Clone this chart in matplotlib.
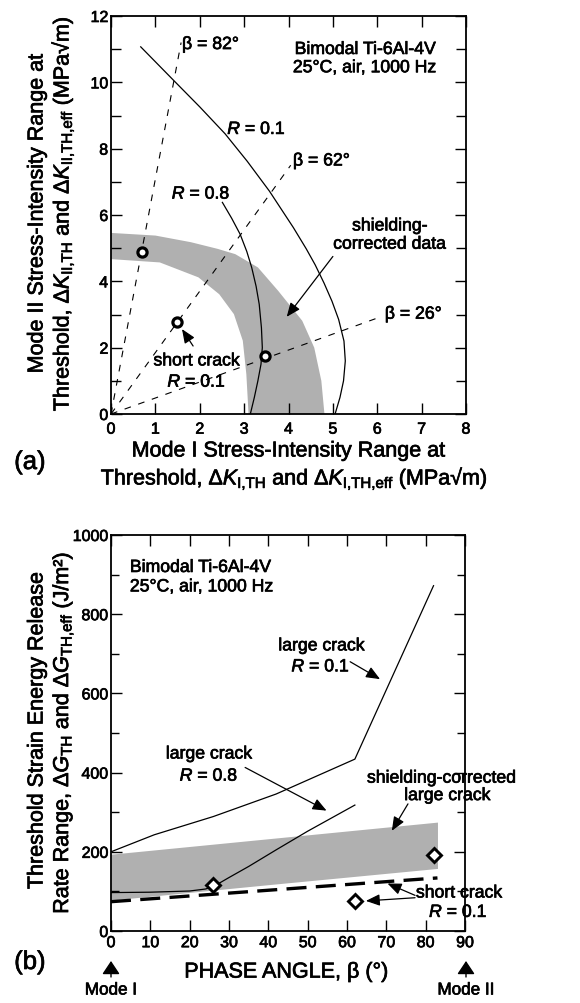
import matplotlib
matplotlib.use("Agg")
import matplotlib.pyplot as plt
import matplotlib.patheffects as pe
from matplotlib.patches import FancyArrowPatch

plt.rcParams['font.family'] = ['Liberation Sans', 'DejaVu Sans']
plt.rcParams['mathtext.fontset'] = 'custom'
plt.rcParams['mathtext.rm'] = 'Liberation Sans'
plt.rcParams['mathtext.it'] = 'Liberation Sans:italic'
plt.rcParams['mathtext.bf'] = 'Liberation Sans:bold'

# ---------------- data: panel (a) ----------------
band_outer_x = [0, 1.0, 1.8, 2.4, 2.8, 3.31, 3.77, 4.31, 4.58, 4.74, 4.81]
band_outer_y = [5.46, 5.38, 5.18, 4.98, 4.82, 4.42, 3.71, 2.81, 2.0, 1.0, 0]
band_inner_x = [0, 1.1, 1.97, 2.44, 2.77, 2.97, 3.05, 3.1]
band_inner_y = [4.67, 4.57, 4.12, 3.61, 3.01, 2.21, 1.2, 0]

r01_KI = [0.67, 1.44, 2.0, 2.57, 3.07, 3.57, 4.11, 4.4, 4.6, 4.8, 4.98, 5.13,
          5.25, 5.28, 5.24, 5.16, 5.05]
r01_KII = [11.07, 10.02, 9.26, 8.45, 7.62, 6.72, 5.62, 4.98, 4.5, 3.95, 3.4, 2.85,
           2.2, 1.6, 1.0, 0.5, 0]
r08_KI = [2.51, 2.72, 2.91, 3.06, 3.17, 3.27, 3.34, 3.39, 3.41, 3.38, 3.31, 3.23, 3.14]
r08_KII = [6.38, 5.9, 5.42, 4.9, 4.42, 3.85, 3.31, 2.6, 2.0, 1.5, 1.0, 0.5, 0]

beta_labels = ['β = 82°', 'β = 62°', 'β = 26°']
beta_end_KI = [1.58, 4.05, 6.12]
beta_end_KII = [11.2, 7.5, 2.95]

short_KI = [0.69, 1.49, 3.48]
short_KII = [4.87, 2.78, 1.74]

# ---------------- data: panel (b) ----------------
band_beta = [0, 40, 83]
band_lo = [78, 117, 158]
band_hi = [194, 233, 275]

lc01_beta = [0, 11, 26, 42, 62, 82]
lc01_G = [200, 243, 289, 346, 434, 872]
lc08_beta = [0, 10, 20, 24, 26, 30, 35, 42, 50, 62]
lc08_G = [97, 98, 101, 106, 112, 135, 163, 205, 252, 318]

sc_beta = [0, 83]
sc_G = [74, 134]

pts_beta = [26, 62, 82]
pts_G = [117, 76, 192]

W, H = 580, 1004
fig = plt.figure(figsize=(W / 100, H / 100), dpi=100)

def fx(px):
    return px / W

def fy(py):
    return 1 - py / H

ax1 = fig.add_axes([fx(111), fy(415), (466 - 111) / W, (415 - 17) / H])
ax2 = fig.add_axes([fx(111), fy(932), (465 - 111) / W, (932 - 536) / H])

FS_ANN = 12.7
FS_LAB = 15.5
FS_TICK = 11.5
heavy = [pe.withStroke(linewidth=0.5, foreground='k')]
arrow_kw = dict(arrowstyle='-|>,head_length=0.6,head_width=0.25', color='k',
                lw=0.9, mutation_scale=14, shrinkA=0, shrinkB=0)

def T(ax, x, y, s, **kw):
    kw.setdefault('fontsize', FS_ANN)
    kw.setdefault('ha', 'center')
    kw.setdefault('va', 'center')
    return ax.text(x, y, s, path_effects=heavy, **kw)

# ---------- panel (a) ----------
bx = band_outer_x + band_inner_x[::-1]
by = band_outer_y + band_inner_y[::-1]
ax1.fill(bx, by, color='#b0b0b0', lw=0, zorder=1)

for xe, ye in zip(beta_end_KI, beta_end_KII):
    ax1.plot([0, xe], [0, ye], color='k', lw=0.8, ls=(0, (6, 7)), zorder=2)

ax1.plot(r01_KI, r01_KII, color='k', lw=0.9, zorder=3, solid_joinstyle='round')
ax1.plot(r08_KI, r08_KII, color='k', lw=0.9, zorder=3, solid_joinstyle='round')
ax1.plot(short_KI, short_KII, ls='none', marker='o', ms=6.6, mew=2.3,
         mfc='white', mec='k', zorder=5)

T(ax1, 1.6, 11.14, beta_labels[0], ha='left')
T(ax1, 4.1, 7.63, beta_labels[1], ha='left')
T(ax1, 6.17, 3.01, beta_labels[2], ha='left')
T(ax1, 2.62, 8.58, r'$R$ = 0.1', ha='left')
T(ax1, 1.37, 6.63, r'$R$ = 0.8', ha='left')
T(ax1, 5.72, 10.99, 'Bimodal Ti-6Al-4V')
T(ax1, 5.72, 10.44, '25°C, air, 1000 Hz')
T(ax1, 6.28, 5.67, 'shielding-')
T(ax1, 6.28, 5.12, 'corrected data')
T(ax1, 1.93, 1.6, 'short crack')
T(ax1, 1.93, 0.96, r'$R$ = 0.1')

ax1.annotate('', xy=(3.96, 2.93), xytext=(5.0, 4.75), arrowprops=arrow_kw, zorder=6)
ax1.annotate('', xy=(1.6, 2.56), xytext=(1.85, 2.05), arrowprops=arrow_kw, zorder=6)

ax1.set_xlim(0, 8)
ax1.set_ylim(0, 12)
ax1.set_xticks(range(0, 9))
ax1.set_yticks(range(0, 13, 2))
ax1.set_yticks(range(1, 12, 2), minor=True)
ax1.tick_params(which='both', direction='in', top=True, right=True, width=1.0,
                labelsize=FS_TICK)
ax1.tick_params(which='major', length=8)
ax1.tick_params(which='minor', length=7)
ax1.tick_params(axis='x', pad=5.5)
ax1.tick_params(axis='y', pad=2)
for s in ax1.spines.values():
    s.set_linewidth(1.3)

def F(x, y, s, **kw):
    kw.setdefault('fontsize', FS_LAB)
    return fig.text(fx(x), fy(y), s, ha='center', va='center', path_effects=heavy, **kw)

F(288, 452, 'Mode I Stress-Intensity Range at')
F(294, 480, r'Threshold, Δ$K_{\mathrm{I{,}TH}}$ and Δ$K_{\mathrm{I{,}TH{,}eff}}$ (MPa√m)')
F(37, 215, 'Mode II Stress-Intensity Range at', rotation=90)
F(63, 215, r'Threshold, Δ$K_{\mathrm{II{,}TH}}$ and Δ$K_{\mathrm{II{,}TH{,}eff}}$ (MPa√m)',
  rotation=90)
F(30, 463, '(a)', fontsize=18.5)

# ---------- panel (b) ----------
ax2.fill_between(band_beta, band_lo, band_hi, color='#b0b0b0', lw=0, zorder=1)
ax2.plot(lc01_beta, lc01_G, color='k', lw=0.9, zorder=3)
ax2.plot(lc08_beta, lc08_G, color='k', lw=0.9, zorder=3, solid_joinstyle='round')
ax2.plot(sc_beta, sc_G, color='k', lw=2.4, ls=(0, (6, 2.8)), zorder=3)
ax2.plot(pts_beta, pts_G, ls='none', marker='D', ms=7.4, mew=2.1,
         mfc='white', mec='k', zorder=5)

T(ax2, 4.8, 918, 'Bimodal Ti-6Al-4V', ha='left')
T(ax2, 4.8, 869, '25°C, air, 1000 Hz', ha='left')
T(ax2, 53.5, 720, 'large crack')
T(ax2, 53.3, 667, r'$R$ = 0.1')
T(ax2, 24.9, 447, 'large crack')
T(ax2, 24.9, 391, r'$R$ = 0.8')
T(ax2, 84.0, 386, 'shielding-corrected')
T(ax2, 85.5, 342, 'large crack')
T(ax2, 88.5, 96, 'short crack')
T(ax2, 88.3, 47, r'$R$ = 0.1')

ax2.annotate('', xy=(68.4, 636), xytext=(60.8, 680), arrowprops=arrow_kw, zorder=6)
ax2.annotate('', xy=(54.8, 304), xytext=(34.1, 413), arrowprops=arrow_kw, zorder=6)
ax2.annotate('', xy=(71.4, 253), xytext=(75.5, 321), arrowprops=arrow_kw, zorder=6)
ax2.annotate('', xy=(70.3, 120), xytext=(77.3, 90), arrowprops=arrow_kw, zorder=6)
ax2.annotate('', xy=(64.8, 76), xytext=(77.3, 84), arrowprops=arrow_kw, zorder=6)

ax2.set_xlim(0, 90)
ax2.set_ylim(0, 1000)
ax2.set_xticks(range(0, 91, 10))
ax2.set_yticks(range(0, 1001, 200))
ax2.set_yticks(range(100, 1000, 200), minor=True)
ax2.tick_params(which='both', direction='in', top=True, right=True, width=1.0,
                labelsize=FS_TICK)
ax2.tick_params(which='major', length=8)
ax2.tick_params(which='minor', length=5.5)
ax2.tick_params(axis='x', pad=3)
ax2.tick_params(axis='y', pad=2)
for s in ax2.spines.values():
    s.set_linewidth(1.3)

for ax in (ax1, ax2):
    for lab in ax.get_xticklabels() + ax.get_yticklabels():
        lab.set_path_effects(heavy)

F(286, 973, 'PHASE ANGLE, β (°)')
F(37, 732, 'Threshold Strain Energy Release', rotation=90)
F(63, 734, r'Rate Range, Δ$G_{\mathrm{TH}}$ and Δ$G_{\mathrm{TH{,}eff}}$ (J/m²)', rotation=90)
F(30, 963, '(b)', fontsize=18.5)

mode_kw = dict(arrowstyle='-|>,head_length=0.45,head_width=0.3', color='k',
               lw=1.0, mutation_scale=18, shrinkA=0, shrinkB=0)
for xp, lab in [(111, 'Mode I'), (466, 'Mode II')]:
    fig.add_artist(FancyArrowPatch((fx(xp), fy(978)), (fx(xp), fy(962)),
                                   transform=fig.transFigure, **mode_kw))
    F(xp, 991, lab, fontsize=12.3)

fig.savefig('out.png', dpi=100)
